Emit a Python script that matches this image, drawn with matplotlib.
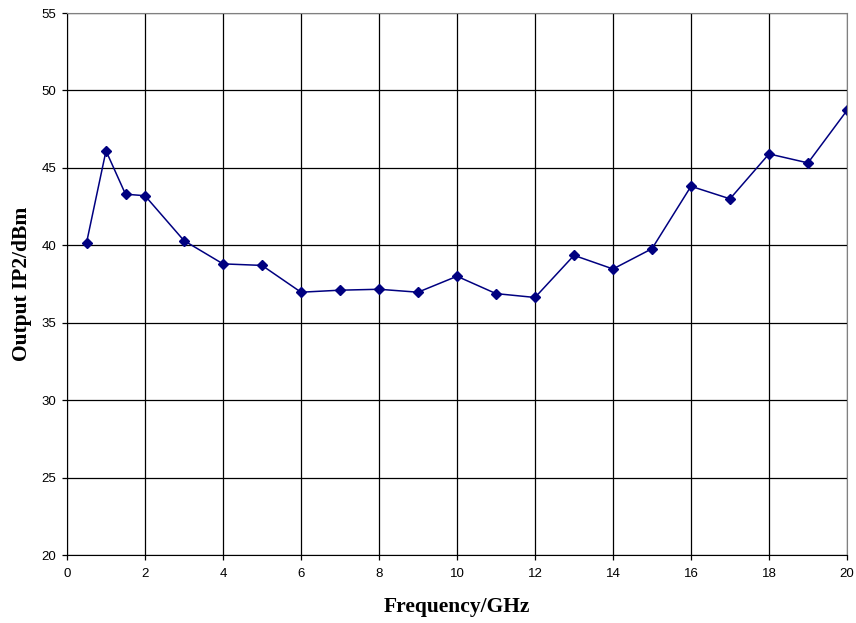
import matplotlib
matplotlib.use('Agg')
import matplotlib.pyplot as plt

# frequency (GHz) and output IP2 (dBm)
freq = [0.5, 1, 1.5, 2, 3, 4, 5, 6, 7, 8, 9, 10, 11, 12, 13, 14, 15, 16, 17, 18, 19, 20]
ip2 = [40.15, 46.1, 43.3, 43.2, 40.3, 38.8, 38.7, 36.97, 37.1, 37.16, 36.97, 38.0,
       36.88, 36.63, 39.35, 38.47, 39.78, 43.81, 43.0, 45.9, 45.32, 48.71]

xticks = list(range(0, 21, 2))
yticks = list(range(20, 56, 5))

fig = plt.figure(figsize=(8.56, 6.23), dpi=100)
ax = fig.add_axes([67/856, 1-555/623, 780/856, 542/623])

ax.plot(freq, ip2, color='#000080', lw=1.1, marker='D', ms=5, mec='#000080', mfc='#000080')

ax.set_xlim(0, 20)
ax.set_ylim(20, 55)
ax.set_xticks(xticks)
ax.set_yticks(yticks)
ax.grid(True, color='black', lw=0.9)
ax.set_axisbelow(True)
for t in ax.get_xticklabels() + ax.get_yticklabels():
    t.set_fontfamily('Liberation Sans')
    t.set_fontsize(9.5)
ax.tick_params(direction='out', length=3.6, width=0.9, color='black')
ax.tick_params(axis='x', pad=6)
ax.tick_params(axis='y', pad=4)

for s in ['top', 'right']:
    ax.spines[s].set_color('#808080')
for s in ['left', 'bottom']:
    ax.spines[s].set_color('black')

ax.set_xlabel('Frequency/GHz', fontfamily='Liberation Serif', fontweight='bold', fontsize=15.5, labelpad=12)
ax.set_ylabel('Output IP2/dBm', fontfamily='Liberation Serif', fontweight='bold', fontsize=15.5, labelpad=7)

fig.savefig('out.png', dpi=100)
